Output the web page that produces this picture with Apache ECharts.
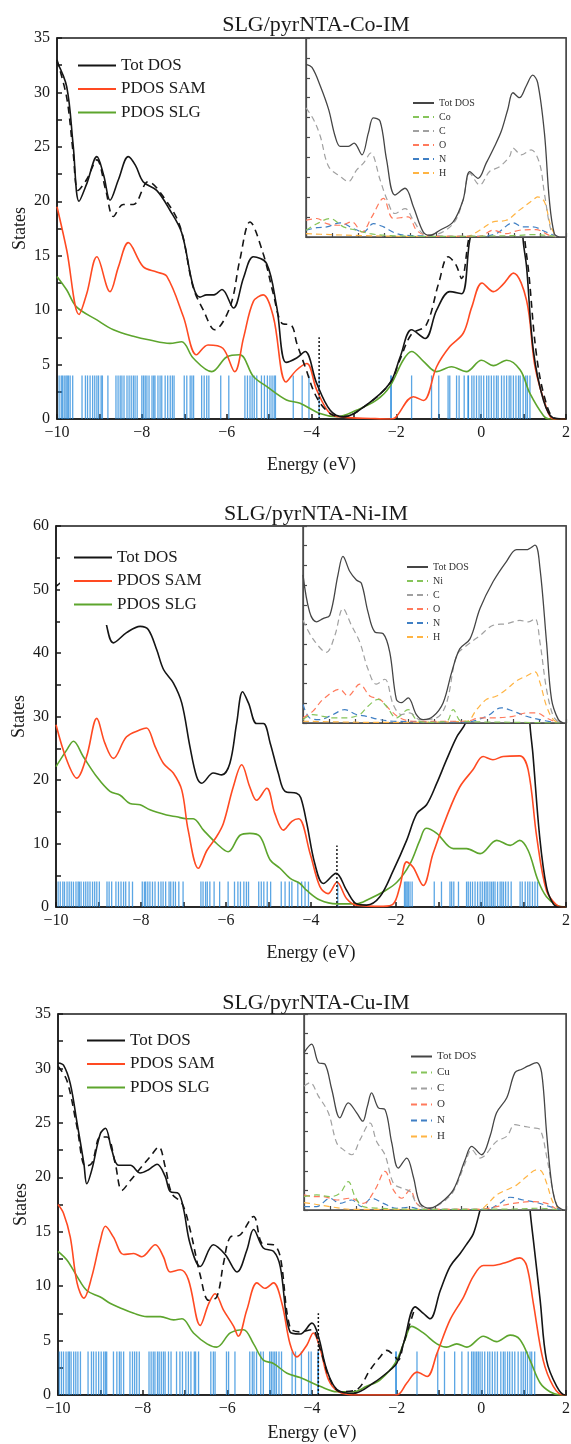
<!doctype html>
<html>
<head>
	<meta charset="UTF-8">
	<title>SLG/pyrNTA-M-IM DOS</title>
	<style>
		html, body {
			margin: 0;
			padding: 0;
			background: #fff;
		}
		#chart {
			width: 571px;
			height: 1444px;
		}
	</style>
</head>
<body>
<div id="chart"></div>
<script src="https://cdn.jsdelivr.net/npm/echarts@6/dist/echarts.min.js"></script>
<script>
	// ---- data: [energy (eV), states] ----
	var stickHeight = 4;

	// panel 1: Co
	var coTot = [[-10,32.8],[-9.77,30.5],[-9.62,25.2],[-9.48,20.0],[-9.3,21.6],[-9.06,24.1],[-8.9,22.4],[-8.75,20.1],[-8.55,22.0],[-8.32,24.1],[-8.15,23.3],[-7.97,21.8],[-7.65,21.0],[-7.34,19.2],[-7.06,17.1],[-6.79,12.2],[-6.63,11.2],[-6.47,11.4],[-6.3,11.4],[-6.11,11.9],[-5.84,10.2],[-5.6,13.0],[-5.37,14.9],[-5.06,14.3],[-4.82,10.3],[-4.6,5.2],[-4.35,5.6],[-4.15,6.2],[-3.88,3.3],[-3.56,0.8],[-3.25,0.2],[-2.7,1.3],[-2.15,3.3],[-1.91,5.7],[-1.64,8.2],[-1.32,7.4],[-1.05,10.0],[-0.74,11.7],[-0.46,11.5],[-0.27,16.4],[0.0,21],[0.3,24],[0.55,25.5],[0.75,26],[0.9,22],[0.99,16.4],[1.07,14.0],[1.23,6.3],[1.47,1.7],[1.7,0.1],[2,0]];
	var coDash = [[-10,33],[-9.77,29.5],[-9.62,24.5],[-9.5,21.0],[-9.3,22.0],[-9.06,23.8],[-8.85,21.0],[-8.67,18.6],[-8.44,19.7],[-8.2,19.7],[-7.85,21.8],[-7.49,20.4],[-7.1,17.7],[-6.79,12.1],[-6.55,10.0],[-6.28,8.2],[-5.92,10.3],[-5.69,14.6],[-5.45,18.1],[-5.14,15.2],[-4.9,11.5],[-4.7,8.8],[-4.47,8.6],[-4.35,7.0],[-4.15,4.8],[-3.88,2.0],[-3.56,0.5],[-3.25,0.2],[-2.7,1.3],[-2.15,3.3],[-1.91,5.5],[-1.64,7.8],[-1.3,8.6],[-1.0,12.5],[-0.78,14.9],[-0.6,14.2],[-0.46,12.9],[-0.3,16.4],[0,22],[0.5,26],[0.9,22],[1.03,16.4],[1.12,13.5],[1.3,6.0],[1.5,1.9],[1.72,0.1],[2,0]];
	var coSam = [[-10,19.5],[-9.77,15.5],[-9.48,9.6],[-9.3,11.5],[-9.06,14.9],[-8.75,11.7],[-8.55,14.0],[-8.32,16.2],[-7.97,14.0],[-7.65,13.5],[-7.41,13.1],[-7.02,9.4],[-6.71,5.9],[-6.44,6.8],[-6.09,6.5],[-5.81,4.35],[-5.6,7.5],[-5.37,10.8],[-5.14,11.4],[-4.9,9.4],[-4.6,3.4],[-4.35,4.5],[-4.11,5.1],[-3.88,2.7],[-3.56,0.5],[-3.2,0.15],[-2.6,0.05],[-2.15,0],[-2.03,0.1],[-1.6,2.05],[-1.36,1.7],[-1.05,4.8],[-0.74,6.65],[-0.42,7.9],[-0.22,10.3],[0.02,12.5],[0.29,11.7],[0.5,12.3],[0.76,13.4],[1.07,10.9],[1.27,4.8],[1.55,0.9],[1.7,0],[2,0]];
	var coSlg = [[-10,13.1],[-9.77,11.85],[-9.54,10.3],[-9.06,9.1],[-8.67,8.2],[-8.2,7.6],[-7.81,7.25],[-7.34,6.95],[-7.06,7.1],[-6.79,5.6],[-6.35,4.35],[-6.0,5.7],[-5.69,5.9],[-5.37,3.9],[-5.06,3.0],[-4.59,1.75],[-4.27,1.45],[-3.8,0.5],[-3.4,0.2],[-2.94,0.8],[-2.46,1.75],[-2.15,3.0],[-1.84,5.4],[-1.64,6.2],[-1.36,5.3],[-1.05,4.35],[-0.7,4.8],[-0.35,4.35],[0.01,5.4],[0.29,4.9],[0.6,5.4],[0.92,4.5],[1.15,2.35],[1.47,0.3],[1.6,0],[2,0]];
	var coMark = [[-3.82,0],[-3.82,7.5]];
	var coSticks = [-9.95,-9.9,-9.87,-9.83,-9.79,-9.76,-9.73,-9.69,-9.63,-9.41,-9.33,-9.28,-9.22,-9.16,-9.11,-9.06,-9.02,-8.96,-8.93,-8.8,-8.61,-8.56,-8.51,-8.47,-8.42,-8.35,-8.3,-8.25,-8.2,-8.16,-8.11,-8.0,-7.96,-7.92,-7.88,-7.83,-7.76,-7.72,-7.69,-7.62,-7.57,-7.53,-7.45,-7.39,-7.33,-7.28,-7.24,-7.0,-6.94,-6.86,-6.82,-6.78,-6.59,-6.53,-6.47,-6.42,-6.14,-5.95,-5.57,-5.51,-5.45,-5.4,-5.35,-5.29,-5.18,-5.11,-5.04,-4.98,-4.93,-4.88,-4.85,-4.43,-4.22,-4.06,-3.82,-2.13,-2.12,-1.64,-1.17,-1.0,-0.78,-0.74,-0.58,-0.52,-0.4,-0.31,-0.3,-0.22,-0.17,-0.11,-0.05,0.0,0.06,0.13,0.18,0.24,0.3,0.36,0.4,0.48,0.54,0.6,0.66,0.7,0.76,0.82,0.88,0.92,0.99,1.05,1.09,1.15];
	// Co inset, [energy, relative states]
	var coInTot = [[-8,86.8],[-7.77,85.2],[-7.45,75.9],[-7.13,64.1],[-6.88,50.6],[-6.68,45.5],[-6.37,45.5],[-6.15,47.2],[-5.85,41.3],[-5.6,52.3],[-5.41,59.9],[-5.15,58.2],[-4.9,38.8],[-4.58,21.1],[-4.19,24.5],[-3.87,15.2],[-3.49,2.5],[-3.24,0.8],[-2.85,3.4],[-2.34,7.6],[-1.96,18.5],[-1.7,32.9],[-1.38,29.5],[-1.07,37.1],[-0.75,45.5],[-0.49,53.1],[-0.24,64.1],[-0.04,72.5],[0.21,70.0],[0.47,75.9],[0.72,81.3],[0.91,77.6],[1.17,52.3],[1.36,18.5],[1.55,1.7],[1.74,0]];
	var coInM = [[-8,3.4],[-7.58,6.7],[-7.07,9.3],[-6.56,5.1],[-6.05,3.4],[-5.54,1.7],[-4.9,0.8],[-3.24,0.3],[-0.04,0.7],[0.72,1.2],[1.36,0.7],[1.74,0]];
	var coInC = [[-8,64.9],[-7.71,59.0],[-7.45,50.6],[-7.13,35.4],[-6.68,30.4],[-6.37,27.8],[-6.05,33.7],[-5.79,37.1],[-5.51,42.2],[-5.15,28.7],[-4.9,19.4],[-4.58,11.8],[-4.19,14.3],[-3.87,8.4],[-3.49,1.7],[-3.11,1.2],[-2.34,6.7],[-1.96,18.5],[-1.7,32.0],[-1.32,26.1],[-0.94,32.9],[-0.55,35.4],[-0.17,40.5],[-0.04,44.7],[0.28,41.3],[0.66,43.8],[0.98,37.1],[1.17,21.9],[1.42,3.4],[1.62,0]];
	var coInO = [[-8,8.4],[-7.58,9.3],[-7.2,6.7],[-6.68,5.9],[-6.24,7.6],[-5.85,2.5],[-5.47,10.1],[-5.02,19.4],[-4.64,9.3],[-4.07,10.1],[-3.75,3.4],[-3.36,0.8],[-2.6,0.3],[-1.32,0.3],[-0.81,3.4],[-0.3,1.7],[0.21,3.4],[0.85,3.7],[1.36,0.8],[1.62,0]];
	var coInN = [[-8,3.4],[-7.58,4.7],[-7.2,5.1],[-6.68,7.1],[-6.17,4.2],[-5.79,2.5],[-5.41,6.7],[-5.02,5.1],[-4.51,1.7],[-3.87,0.7],[-1.32,0.3],[-0.68,1.7],[-0.04,7.1],[0.34,5.1],[0.72,5.1],[1.23,2.5],[1.62,0.3]];
	var coInH = [[-8,1.7],[-7.07,1.2],[-5.79,0.7],[-3.87,0.3],[-1.83,0.3],[-1.32,3.4],[-0.81,7.6],[-0.3,8.4],[0.21,13.5],[0.72,18.5],[0.91,20.2],[1.17,17.7],[1.42,5.1],[1.62,0.3]];

	// panel 2: Ni
	var niTot = [[-10,50.5],[-9.6,52],[-9.2,50],[-8.95,47],[-8.85,45.3],[-8.65,41.6],[-8.34,43.2],[-8.02,44.2],[-7.83,43.7],[-7.63,40.5],[-7.47,37.4],[-7.24,35.3],[-7.04,32.1],[-6.85,25.3],[-6.69,20.5],[-6.57,19.5],[-6.3,21.1],[-6.1,20.8],[-5.91,22.6],[-5.75,28.9],[-5.61,33.9],[-5.47,32.1],[-5.28,28.9],[-5.12,28.9],[-4.96,25.8],[-4.77,21.1],[-4.61,18.2],[-4.34,17.9],[-4.24,17.2],[-4.1,13.2],[-3.91,6.8],[-3.71,3.7],[-3.41,5.3],[-3.16,2.6],[-2.93,0.5],[-2.69,0.3],[-2.38,1.6],[-2.06,5.8],[-1.75,10.5],[-1.51,14.7],[-1.28,16.1],[-1.04,19.5],[-0.81,23.2],[-0.57,26.8],[-0.37,28.9],[-0.1,35],[0.3,45],[0.7,53],[0.95,55],[1.08,40],[1.15,28.9],[1.22,24.2],[1.38,11.1],[1.54,3.2],[1.7,0.5],[1.85,0],[2,0]];
	var niSam = [[-10,28.7],[-9.75,23.2],[-9.51,20.3],[-9.28,23.7],[-9.04,29.7],[-8.85,25.8],[-8.65,23.4],[-8.34,26.8],[-8.02,27.9],[-7.87,28.2],[-7.67,25.3],[-7.47,22.6],[-7.24,21.1],[-7.04,18.4],[-6.89,12.1],[-6.65,6.1],[-6.45,8.9],[-6.22,11.1],[-6.06,13.2],[-5.83,18.9],[-5.63,22.4],[-5.44,18.9],[-5.28,16.8],[-5.04,18.7],[-4.85,14.7],[-4.65,12.1],[-4.45,13.5],[-4.29,13.9],[-4.02,8.4],[-3.79,3.2],[-3.6,2.1],[-3.39,3.9],[-3.16,1.3],[-2.93,0.3],[-2.3,0.1],[-2.06,0.5],[-1.91,3.2],[-1.75,7.1],[-1.6,6.3],[-1.36,3.4],[-1.13,8.4],[-0.81,14.2],[-0.5,18.9],[-0.19,21.6],[0.05,23.7],[0.28,23.2],[0.52,23.7],[0.91,23.8],[1.11,21.6],[1.31,11.1],[1.54,2.6],[1.78,0.3],[1.94,0],[2,0]];
	var niSlg = [[-10,22.1],[-9.75,24.7],[-9.59,26.1],[-9.36,23.7],[-9.04,20.5],[-8.73,18.2],[-8.49,17.6],[-8.26,16.3],[-8.02,16.1],[-7.79,15.3],[-7.4,14.5],[-7.16,14.2],[-6.93,13.9],[-6.77,13.9],[-6.53,12.1],[-6.22,10.0],[-5.95,8.7],[-5.67,11.3],[-5.44,11.6],[-5.2,11.1],[-4.96,7.4],[-4.73,6.1],[-4.49,4.5],[-4.26,3.7],[-4.1,2.6],[-3.79,1.1],[-3.39,0.5],[-2.93,0.5],[-2.62,1.3],[-2.3,2.4],[-1.98,3.9],[-1.67,6.8],[-1.44,10.5],[-1.29,12.4],[-1.04,11.6],[-0.65,9.2],[-0.34,9.2],[-0.02,8.4],[0.37,10.5],[0.69,9.7],[0.91,10.5],[1.11,8.9],[1.34,4.2],[1.54,1.6],[1.78,0.3],[2,0]];
	var niMark = [[-3.39,0],[-3.39,9.7]];
	var niSticks = [-9.95,-9.9,-9.84,-9.8,-9.74,-9.69,-9.64,-9.59,-9.53,-9.48,-9.45,-9.41,-9.35,-9.3,-9.25,-9.2,-9.14,-9.09,-9.04,-8.98,-8.8,-8.75,-8.69,-8.59,-8.53,-8.47,-8.41,-8.36,-8.28,-8.2,-7.97,-7.92,-7.89,-7.84,-7.79,-7.73,-7.67,-7.59,-7.53,-7.48,-7.42,-7.34,-7.3,-7.24,-7.19,-7.11,-7.01,-6.59,-6.54,-6.48,-6.44,-6.38,-6.28,-6.15,-5.95,-5.8,-5.72,-5.66,-5.58,-5.52,-5.47,-5.23,-5.17,-5.11,-5.03,-4.95,-4.7,-4.61,-4.51,-4.45,-4.31,-4.22,-4.14,-4.06,-3.37,-1.8,-1.77,-1.74,-1.71,-1.67,-1.62,-1.1,-0.93,-0.73,-0.69,-0.64,-0.53,-0.34,-0.3,-0.25,-0.2,-0.14,-0.08,-0.02,0.03,0.08,0.12,0.16,0.21,0.25,0.29,0.33,0.39,0.45,0.49,0.53,0.58,0.64,0.71,0.92,0.97,1.04,1.1,1.15,1.21,1.27,1.33];
	var niInTot = [[-8,75.2],[-7.75,56.4],[-7.49,51.3],[-7.24,53.0],[-6.98,54.7],[-6.67,75.2],[-6.48,84.6],[-6.22,76.9],[-5.97,72.6],[-5.78,70.9],[-5.53,56.4],[-5.27,46.2],[-4.95,45.3],[-4.7,35.9],[-4.45,12.0],[-4.26,10.3],[-4.0,12.8],[-3.69,4.3],[-3.43,1.7],[-3.05,3.4],[-2.67,10.3],[-2.35,25.6],[-2.04,37.6],[-1.65,42.7],[-1.27,58.1],[-0.77,71.8],[-0.26,82.1],[0.12,88.0],[0.5,88.0],[0.82,90.3],[1.01,78.6],[1.26,41.0],[1.45,12.0],[1.71,1.7],[1.9,0]];
	var niInM = [[-8,1.7],[-7.62,4.3],[-7.24,3.4],[-6.86,2.6],[-6.35,2.6],[-5.84,4.3],[-5.53,8.5],[-5.14,12.0],[-4.83,8.5],[-4.45,2.6],[-4.0,6.8],[-3.69,1.7],[-3.3,0.3],[-2.54,0.9],[-2.29,6.8],[-1.97,0.9],[0.3,0.3],[1.77,0]];
	var niInC = [[-8,52.1],[-7.62,42.7],[-7.11,35.9],[-6.79,44.4],[-6.48,58.1],[-6.16,49.6],[-5.84,41.0],[-5.53,27.4],[-5.21,19.7],[-4.89,22.2],[-4.57,9.4],[-4.26,4.3],[-3.94,5.1],[-3.56,1.7],[-2.92,2.6],[-2.54,10.3],[-2.16,34.2],[-1.78,39.3],[-1.27,44.4],[-0.77,49.6],[-0.26,50.4],[0.25,52.1],[0.57,51.3],[0.82,53.0],[1.01,41.0],[1.26,17.1],[1.52,3.4],[1.77,0]];
	var niInO = [[-8,2.6],[-7.62,6.0],[-7.24,12.0],[-6.6,17.1],[-6.29,13.7],[-5.84,19.7],[-5.46,13.7],[-5.08,12.0],[-4.7,6.8],[-4.32,2.6],[-3.81,0.9],[-1.78,0.9],[-1.27,2.6],[-0.77,2.6],[-0.01,3.4],[0.5,5.1],[0.88,5.1],[1.26,2.6],[1.64,0.3]];
	var niInN = [[-8,9.4],[-7.75,2.6],[-7.37,1.7],[-6.86,4.3],[-6.42,6.8],[-5.97,4.3],[-5.59,3.4],[-5.08,1.7],[-4.57,0.9],[-1.78,0.5],[-1.02,3.4],[-0.46,7.7],[-0.01,6.0],[0.5,3.4],[1.01,1.7],[1.52,0.3]];
	var niInH = [[-8,0.9],[-5.08,0.3],[-1.78,0.9],[-1.4,6.8],[-1.02,12.0],[-0.64,13.7],[-0.26,17.1],[0.12,21.4],[0.5,23.9],[0.82,26.0],[1.01,20.5],[1.26,8.5],[1.52,1.7],[1.77,0]];

	// panel 3: Cu
	var cuTot = [[-10,30.5],[-9.87,30.3],[-9.71,28.6],[-9.55,25.0],[-9.39,21.3],[-9.32,19.4],[-9.2,20.7],[-9.0,24.0],[-8.88,24.5],[-8.73,22.5],[-8.57,21.1],[-8.29,21.1],[-8.06,20.4],[-7.86,20.7],[-7.66,21.2],[-7.47,20.1],[-7.35,18.7],[-7.15,18.5],[-7.03,17.0],[-6.88,13.9],[-6.64,11.8],[-6.33,13.8],[-6.05,12.9],[-5.77,11.3],[-5.54,13.3],[-5.38,15.2],[-5.15,13.5],[-4.91,13.2],[-4.75,11.8],[-4.52,5.8],[-4.28,5.6],[-4.0,6.6],[-3.85,5.4],[-3.65,2.3],[-3.41,0.5],[-3.02,0.15],[-2.55,1.1],[-2.15,2.3],[-2.0,2.9],[-1.84,4.7],[-1.56,8.1],[-1.37,7.5],[-1.21,7.0],[-0.97,9.6],[-0.74,11.8],[-0.5,13.0],[-0.34,13.9],[-0.19,14.8],[-0.03,17.0],[0.3,22],[0.7,26],[1.0,25],[1.1,20],[1.15,17.0],[1.23,14.2],[1.39,8.7],[1.54,3.2],[1.78,0.8],[1.98,0],[2,0]];
	var cuDash = [[-10,30.2],[-9.79,28.9],[-9.55,24.6],[-9.35,21.0],[-9.2,21.3],[-9.0,23.7],[-8.84,23.7],[-8.65,21.3],[-8.49,18.8],[-8.29,19.7],[-8.06,20.8],[-7.82,21.9],[-7.62,22.8],[-7.47,21.0],[-7.31,18.5],[-7.07,17.6],[-6.88,15.2],[-6.64,11.0],[-6.44,8.7],[-6.25,9.0],[-6.09,12.1],[-5.93,14.5],[-5.7,14.7],[-5.38,16.4],[-5.17,13.9],[-4.91,13.8],[-4.75,12.7],[-4.52,6.2],[-4.28,5.8],[-4.0,6.0],[-3.8,4.1],[-3.57,1.4],[-3.33,0.3],[-2.94,0.5],[-2.63,2.3],[-2.39,3.5],[-2.23,4.1],[-2.08,3.7],[-1.96,3.2],[-1.84,4.7],[-1.56,8.1]];
	var cuSam = [[-10,17.5],[-9.87,16.7],[-9.71,14.5],[-9.55,10.3],[-9.39,8.9],[-9.2,10.9],[-9.0,14.2],[-8.88,15.5],[-8.69,14.5],[-8.45,12.9],[-8.21,13.0],[-8.02,12.7],[-7.7,13.8],[-7.51,12.7],[-7.35,11.3],[-7.11,11.5],[-6.92,10.6],[-6.64,6.4],[-6.44,8.4],[-6.29,9.3],[-6.09,7.8],[-5.85,6.3],[-5.74,5.4],[-5.54,7.8],[-5.3,10.3],[-5.11,9.8],[-4.91,10.3],[-4.71,8.4],[-4.52,4.7],[-4.36,3.5],[-4.12,4.6],[-3.97,5.7],[-3.81,4.3],[-3.61,1.4],[-3.37,0.3],[-2.94,0],[-2.0,0],[-1.76,1.1],[-1.52,2.1],[-1.28,1.7],[-1.05,3.8],[-0.74,6.9],[-0.42,9.0],[-0.19,10.9],[0.05,11.9],[0.28,11.9],[0.6,12.2],[0.91,12.6],[1.07,11.9],[1.23,8.4],[1.46,3.2],[1.7,0.8],[1.94,0],[2,0]];
	var cuSlg = [[-10,13.2],[-9.79,12.4],[-9.55,10.9],[-9.32,9.6],[-9.0,9.0],[-8.76,8.4],[-8.53,8.0],[-8.21,7.5],[-7.9,7.2],[-7.58,7.2],[-7.27,6.9],[-7.07,7.0],[-6.8,5.7],[-6.48,4.7],[-6.25,4.4],[-5.93,5.7],[-5.62,6.0],[-5.38,4.7],[-5.15,3.2],[-4.91,2.9],[-4.59,2.0],[-4.28,1.6],[-3.81,0.8],[-3.41,0.3],[-3.02,0.3],[-2.71,0.8],[-2.39,1.4],[-2.04,2.9],[-1.8,5.1],[-1.65,6.3],[-1.37,5.7],[-1.05,4.7],[-0.82,4.4],[-0.58,4.7],[-0.34,4.4],[0.05,5.4],[0.36,4.9],[0.68,5.5],[0.91,5.1],[1.15,3.2],[1.39,1.1],[1.62,0.3],[1.86,0],[2,0]];
	var cuMark = [[-3.85,0],[-3.85,7.5]];
	var cuSticks = [-9.97,-9.92,-9.87,-9.81,-9.76,-9.73,-9.69,-9.63,-9.58,-9.53,-9.47,-9.29,-9.21,-9.16,-9.1,-9.04,-8.98,-8.92,-8.88,-8.85,-8.69,-8.61,-8.55,-8.51,-8.45,-8.3,-8.24,-8.19,-8.14,-8.08,-7.85,-7.8,-7.75,-7.71,-7.65,-7.61,-7.56,-7.51,-7.47,-7.39,-7.33,-7.2,-7.12,-7.06,-6.98,-6.92,-6.86,-6.78,-6.75,-6.68,-6.39,-6.33,-6.29,-6.02,-5.97,-5.82,-5.47,-5.41,-5.37,-5.31,-5.21,-5.15,-5.0,-4.96,-4.92,-4.88,-4.84,-4.78,-4.72,-4.47,-4.39,-4.25,-4.08,-4.02,-3.86,-3.85,-2.02,-2.01,-1.52,-1.03,-0.87,-0.63,-0.46,-0.31,-0.23,-0.19,-0.15,-0.11,-0.07,-0.03,0.02,0.08,0.15,0.2,0.26,0.32,0.38,0.46,0.52,0.56,0.62,0.67,0.73,0.79,0.87,0.94,0.99,1.04,1.09,1.15,1.19,1.26];
	var cuInTot = [[-8,80.3],[-7.71,84.6],[-7.45,75.2],[-7.2,74.4],[-6.94,61.5],[-6.63,47.0],[-6.31,54.7],[-5.99,49.6],[-5.76,45.3],[-5.58,53.0],[-5.42,59.8],[-5.16,52.1],[-4.91,51.3],[-4.65,34.2],[-4.4,21.4],[-4.08,26.5],[-3.83,17.1],[-3.57,3.4],[-3.19,0.9],[-2.81,3.4],[-2.3,10.3],[-1.85,25.6],[-1.6,32.5],[-1.22,28.2],[-0.9,37.6],[-0.65,49.6],[-0.26,57.3],[0.05,70.1],[0.31,71.8],[0.56,73.5],[0.88,75.2],[1.07,70.1],[1.26,39.3],[1.45,13.7],[1.64,2.6],[1.9,0]];
	var cuInM = [[-8,6.8],[-7.52,7.7],[-7.01,6.8],[-6.63,8.5],[-6.31,14.5],[-6.05,6.8],[-5.74,1.7],[-5.1,0.9],[-3.5,0.3],[0,0.5],[1.0,0.9],[1.77,0]];
	var cuInC = [[-8,63.2],[-7.77,65.0],[-7.45,58.1],[-7.07,49.6],[-6.75,34.2],[-6.5,30.8],[-6.18,28.2],[-5.86,35.9],[-5.48,44.4],[-5.23,35.0],[-4.91,28.2],[-4.59,13.7],[-4.27,11.1],[-3.95,9.4],[-3.7,3.4],[-3.32,0.9],[-2.81,3.0],[-2.3,9.5],[-1.85,23.9],[-1.6,30.8],[-1.28,26.5],[-0.65,35.0],[-0.26,37.6],[0.05,43.6],[0.37,42.7],[0.75,41.9],[1.01,41.0],[1.26,27.4],[1.52,8.5],[1.71,0.9],[1.85,0]];
	var cuInO = [[-8,7.7],[-7.64,6.8],[-7.26,6.8],[-6.75,5.1],[-6.24,6.0],[-5.74,3.4],[-5.29,10.3],[-4.91,19.7],[-4.59,10.3],[-4.27,6.0],[-3.95,10.3],[-3.7,3.4],[-3.32,0.3],[-1.28,0.3],[-0.65,1.7],[-0.01,3.4],[0.75,4.3],[1.26,3.4],[1.64,0.3]];
	var cuInN = [[-8,1.7],[-7.52,1.7],[-7.01,6.0],[-6.63,3.4],[-6.18,5.1],[-5.8,1.7],[-5.42,6.0],[-4.97,3.4],[-4.46,0.9],[-3.95,1.4],[-3.5,0.3],[-1.03,0.3],[-0.52,3.4],[-0.14,6.5],[0.37,5.1],[0.88,3.8],[1.39,1.7],[1.77,0.3]];
	var cuInH = [[-8,3.8],[-7.64,3.1],[-7.01,1.7],[-6.12,0.3],[-1.28,0.3],[-1.03,2.6],[-0.65,7.7],[-0.26,10.3],[0.12,12.8],[0.5,17.1],[0.88,20.5],[1.07,19.7],[1.26,13.7],[1.52,3.4],[1.77,0.3]];

	var panels = [
		{title: 'SLG/pyrNTA-Co-IM', metal: 'Co', tot: coTot, dash: coDash, sam: coSam, slg: coSlg, mark: coMark, sticks: coSticks,
			inTot: coInTot, inM: coInM, inC: coInC, inO: coInO, inN: coInN, inH: coInH},
		{title: 'SLG/pyrNTA-Ni-IM', metal: 'Ni', tot: niTot, dash: null, sam: niSam, slg: niSlg, mark: niMark, sticks: niSticks,
			inTot: niInTot, inM: niInM, inC: niInC, inO: niInO, inN: niInN, inH: niInH},
		{title: 'SLG/pyrNTA-Cu-IM', metal: 'Cu', tot: cuTot, dash: cuDash, sam: cuSam, slg: cuSlg, mark: cuMark, sticks: cuSticks,
			inTot: cuInTot, inM: cuInM, inC: cuInC, inO: cuInO, inN: cuInN, inH: cuInH}
	];

	// ---- layout (pixels) ----
	var layout = [
		{grid: [57, 38, 509, 381], inset: [306, 38, 260, 199], titleTop: 9, yMax: 35, yStep: 5,
			legend: {left: 72, top: 52, pad: [5, 5, 5, 5], bg: 'transparent'}, inLegend: {left: 412, top: 98, gap: 4, font: 10},
			xGap: 37, yGap: 28},
		{grid: [56, 526, 510, 381], inset: [303, 526, 263, 197], titleTop: 498, yMax: 60, yStep: 10,
			legend: {left: 60, top: 527, pad: [22, 10, 12, 13], bg: '#fff'}, inLegend: {left: 406, top: 562, gap: 4, font: 10},
			xGap: 37, yGap: 28},
		{grid: [58, 1014, 508, 381], inset: [304, 1014, 262, 196], titleTop: 987, yMax: 35, yStep: 5,
			legend: {left: 81, top: 1027, pad: [5, 5, 5, 5], bg: 'transparent'}, inLegend: {left: 410, top: 1051, gap: 5, font: 11},
			xGap: 29, yGap: 28}
	];

	var FONT = '"Liberation Serif", "DejaVu Serif", serif';
	var INK = '#1a1a1a';
	var colTot = '#151515', colSam = '#ff4a22', colSlg = '#5da52d';
	var colInTot = '#454545', colInM = '#86c45a', colInC = '#a0a0a0', colInO = '#ff7a5c', colInN = '#3f7fc4', colInH = '#ffb443';
	var stickColor = 'rgba(28,132,218,0.72)';

	function minus(v) {
		return v < 0 ? '\u2212' + Math.abs(v) : String(v);
	}

	function curve(name, data, idx, color, width, dash, z) {
		return {
			name: name, type: 'line', data: data, xAxisIndex: idx, yAxisIndex: idx,
			symbol: 'none', smooth: 0.35, z: z, silent: true,
			lineStyle: {color: color, width: width, type: dash || 'solid'},
			itemStyle: {color: color}
		};
	}

	var grids = [], xAxes = [], yAxes = [], series = [], titles = [], legends = [];

	panels.forEach(function (p, i) {
		var L = layout[i];
		var m = 2 * i, n = 2 * i + 1;

		titles.push({
			text: p.title, left: 311, top: L.titleTop, textAlign: 'center',
			textStyle: {fontFamily: FONT, fontSize: 22, fontWeight: 'normal', color: INK}
		});

		// main plot
		grids.push({
			left: L.grid[0], top: L.grid[1], width: L.grid[2], height: L.grid[3],
			show: true, borderColor: INK, borderWidth: 1.5, backgroundColor: 'transparent',
			containLabel: false, outerBoundsMode: 'none'
		});
		xAxes.push({
			gridIndex: m, type: 'value', min: -10, max: 2, interval: 2,
			name: 'Energy (eV)', nameLocation: 'middle', nameGap: L.xGap, nameMoveOverlap: false,
			nameTextStyle: {fontFamily: FONT, fontSize: 18, color: INK},
			axisLine: {onZero: false, lineStyle: {color: INK, width: 1.5}},
			axisTick: {inside: true, length: 5, lineStyle: {color: INK, width: 1.5}},
			minorTick: {show: true, splitNumber: 2, length: 5, lineStyle: {color: INK, width: 1.5}},
			splitLine: {show: false}, minorSplitLine: {show: false},
			axisLabel: {fontFamily: FONT, fontSize: 16, color: INK, margin: 6, formatter: minus}
		});
		yAxes.push({
			gridIndex: m, type: 'value', min: 0, max: L.yMax, interval: L.yStep,
			name: 'States', nameLocation: 'middle', nameGap: L.yGap, nameRotate: 90, nameMoveOverlap: false,
			nameTextStyle: {fontFamily: FONT, fontSize: 18, color: INK},
			axisLine: {show: true, onZero: false, lineStyle: {color: INK, width: 1.5}},
			axisTick: {show: true, inside: true, length: 5, lineStyle: {color: INK, width: 1.5}},
			minorTick: {show: true, splitNumber: 2, length: 5, lineStyle: {color: INK, width: 1.5}},
			splitLine: {show: false}, minorSplitLine: {show: false},
			axisLabel: {fontFamily: FONT, fontSize: 16, color: INK, margin: 7}
		});

		series.push({
			name: 'levels', type: 'bar', xAxisIndex: m, yAxisIndex: m, barWidth: 1.3,
			data: p.sticks.map(function (e) { return [e, stickHeight]; }),
			itemStyle: {color: stickColor}, z: 1, silent: true
		});
		series.push(curve('PDOS SLG', p.slg, m, colSlg, 1.6, null, 2));
		series.push(curve('PDOS SAM', p.sam, m, colSam, 1.6, null, 3));
		if (p.dash) series.push(curve('Tot DOS (dashed)', p.dash, m, colTot, 1.6, [7, 5], 3));
		series.push(curve('Tot DOS', p.tot, m, colTot, 1.6, null, 4));
		var vline = curve('HOMO', p.mark, m, colTot, 1.5, [2, 2], 4);
		vline.smooth = false;
		series.push(vline);

		legends.push({
			data: ['Tot DOS', 'PDOS SAM', 'PDOS SLG'], orient: 'vertical',
			left: L.legend.left, top: L.legend.top, padding: L.legend.pad,
			backgroundColor: L.legend.bg, itemWidth: 38, itemHeight: 14, itemGap: 6.5,
			selectedMode: false, z: 6, itemStyle: {opacity: 0},
			textStyle: {fontFamily: FONT, fontSize: 17, color: INK}
		});

		// inset
		grids.push({
			left: L.inset[0], top: L.inset[1], width: L.inset[2], height: L.inset[3],
			show: true, borderColor: '#4a4a4a', borderWidth: 1.5, backgroundColor: '#fff',
			z: 10, containLabel: false, outerBoundsMode: 'none'
		});
		xAxes.push({
			gridIndex: n, type: 'value', min: -8, max: 2, interval: 1, z: 12,
			axisLine: {onZero: false, lineStyle: {color: '#4a4a4a', width: 1.2}},
			axisTick: {inside: true, length: 4, lineStyle: {color: '#4a4a4a', width: 1.2}},
			splitLine: {show: false}, axisLabel: {show: false}
		});
		yAxes.push({
			gridIndex: n, type: 'value', min: 0, max: 100, interval: 10, z: 12,
			axisLine: {show: true, onZero: false, lineStyle: {color: '#4a4a4a', width: 1.2}},
			axisTick: {show: true, inside: true, length: 4, lineStyle: {color: '#4a4a4a', width: 1.2}},
			splitLine: {show: false}, axisLabel: {show: false}
		});
		series.push(curve('H', p.inH, n, colInH, 1.2, [6, 4], 12));
		series.push(curve('N', p.inN, n, colInN, 1.2, [6, 4], 12));
		series.push(curve('O', p.inO, n, colInO, 1.2, [6, 4], 12));
		series.push(curve(p.metal, p.inM, n, colInM, 1.2, [6, 4], 12));
		series.push(curve('C', p.inC, n, colInC, 1.2, [6, 4], 12));
		series.push(curve('Tot DOS ', p.inTot, n, colInTot, 1.3, null, 13));

		legends.push({
			data: ['Tot DOS ', p.metal, 'C', 'O', 'N', 'H'], orient: 'vertical',
			left: L.inLegend.left, top: L.inLegend.top, padding: 0,
			itemWidth: 21, itemHeight: 8, itemGap: L.inLegend.gap,
			selectedMode: false, z: 14, itemStyle: {opacity: 0},
			textStyle: {fontFamily: FONT, fontSize: L.inLegend.font, color: '#333'}
		});
	});

	var chart = echarts.init(document.getElementById('chart'), null, {renderer: 'canvas'});
	chart.setOption({
		animation: false,
		backgroundColor: '#fff',
		textStyle: {fontFamily: FONT},
		title: titles,
		legend: legends,
		grid: grids,
		xAxis: xAxes,
		yAxis: yAxes,
		series: series
	});
</script>
</body>
</html>
